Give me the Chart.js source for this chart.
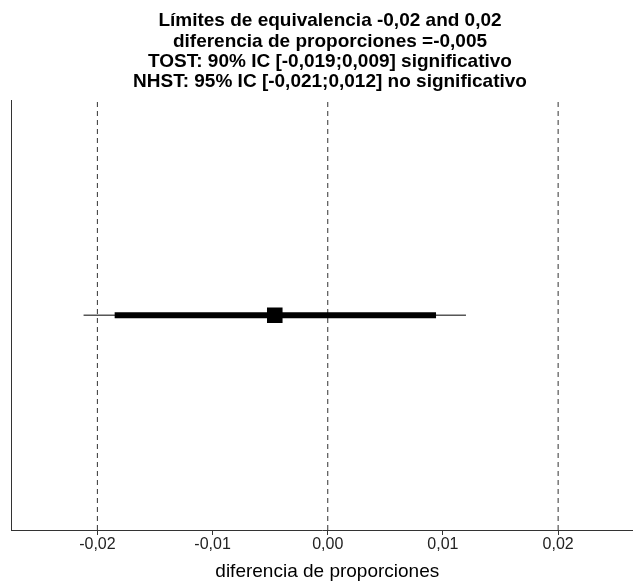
<!DOCTYPE html>
<html>
<head>
<meta charset="utf-8">
<script src="https://cdn.jsdelivr.net/npm/chart.js@4"></script>
<style>
  html, body { margin: 0; padding: 0; background: #fff; }
  #wrap { width: 633px; height: 581px; }
</style>
</head>
<body>
<div id="wrap"><canvas id="chart" width="633" height="581"></canvas></div>
<script>
// values
const titleLines = [
    "Límites de equivalencia -0,02 and 0,02",
    "diferencia de proporciones =-0,005",
    "TOST: 90% IC [-0,019;0,009] significativo",
    "NHST: 95% IC [-0,021;0,012] no significativo"
];
const xAxisTitle = "diferencia de proporciones";
const tickValues = [-0.02, -0.01, 0.00, 0.01, 0.02];
const tickLabels = ["-0,02", "-0,01", "0,00", "0,01", "0,02"];
const xRange = [-0.0275, 0.0265];
const referenceLines = [-0.02, 0.00, 0.02];
const estimate = -0.0046;
const ci90 = [-0.0185, 0.0094];
const ci95 = [-0.0212, 0.0120];
const rowY = 1;

const ctx = document.getElementById("chart").getContext("2d");

// dashed vertical lines at the equivalence bounds and zero
const refDatasets = referenceLines.map(v => ({
    type: 'line',
    data: [{ x: v, y: 0 }, { x: v, y: 2 }],
    borderColor: '#333',
    borderWidth: 1,
    borderDash: [5, 4],
    pointRadius: 0,
    order: 3
}));

// shift the title a little to the right, it sits over the panel in the original
const shiftTitle = {
    id: 'shiftTitle',
    afterLayout(chart) {
        if (chart.titleBlock) {
            chart.titleBlock.left = chart.chartArea.left + 16;
            chart.titleBlock.right = chart.chartArea.right;
        }
    }
};

new Chart(ctx, {
    type: 'scatter',
    data: {
        datasets: [
            ...refDatasets,
            {
                type: 'line',
                data: [{ x: ci95[0], y: rowY }, { x: ci95[1], y: rowY }],
                borderColor: '#000',
                borderWidth: 1,
                pointRadius: 0,
                order: 2
            },
            {
                type: 'line',
                data: [{ x: ci90[0], y: rowY }, { x: ci90[1], y: rowY }],
                borderColor: '#000',
                borderWidth: 6,
                borderCapStyle: 'butt',
                pointRadius: 0,
                order: 1
            },
            {
                data: [{ x: estimate, y: rowY }],
                pointStyle: 'rect',
                pointRadius: 11,
                backgroundColor: '#000',
                borderColor: '#000',
                borderWidth: 0,
                order: 0
            }
        ]
    },
    options: {
        responsive: false,
        animation: false,
        layout: { autoPadding: false, padding: { left: 11, right: 0, top: 0, bottom: -2 } },
        plugins: {
            legend: { display: false },
            tooltip: { enabled: false },
            title: {
                display: true,
                text: titleLines,
                color: '#000',
                font: { family: 'Liberation Sans', size: 19, weight: 'bold', lineHeight: 1.07 },
                padding: { top: 11, bottom: 8 }
            }
        },
        scales: {
            x: {
                type: 'linear',
                min: xRange[0],
                max: xRange[1],
                afterBuildTicks: axis => {
                    axis.ticks = tickValues.map(v => ({ value: v }));
                },
                // the panel runs to the right edge, no extra room for labels
                afterFit: axis => {
                    axis.paddingLeft = 0;
                    axis.paddingRight = 0;
                },
                ticks: {
                    color: '#222',
                    font: { family: 'Liberation Sans', size: 16 },
                    padding: 0,
                    callback: (value) => {
                        const i = tickValues.findIndex(t => Math.abs(t - value) < 1e-9);
                        return i >= 0 ? tickLabels[i] : '';
                    }
                },
                grid: {
                    drawOnChartArea: false,
                    drawTicks: true,
                    tickLength: 5,
                    color: '#333'
                },
                border: { display: true, color: '#333', width: 1 },
                title: {
                    display: true,
                    text: "  " + xAxisTitle,
                    color: '#000',
                    font: { family: 'Liberation Sans', size: 19 },
                    padding: { top: 6, bottom: 0 }
                }
            },
            y: {
                type: 'linear',
                min: 0,
                max: 2,
                ticks: { display: false },
                grid: { display: false, drawTicks: false },
                border: { display: true, color: '#333', width: 1 }
            }
        }
    },
    plugins: [shiftTitle]
});
</script>
</body>
</html>
